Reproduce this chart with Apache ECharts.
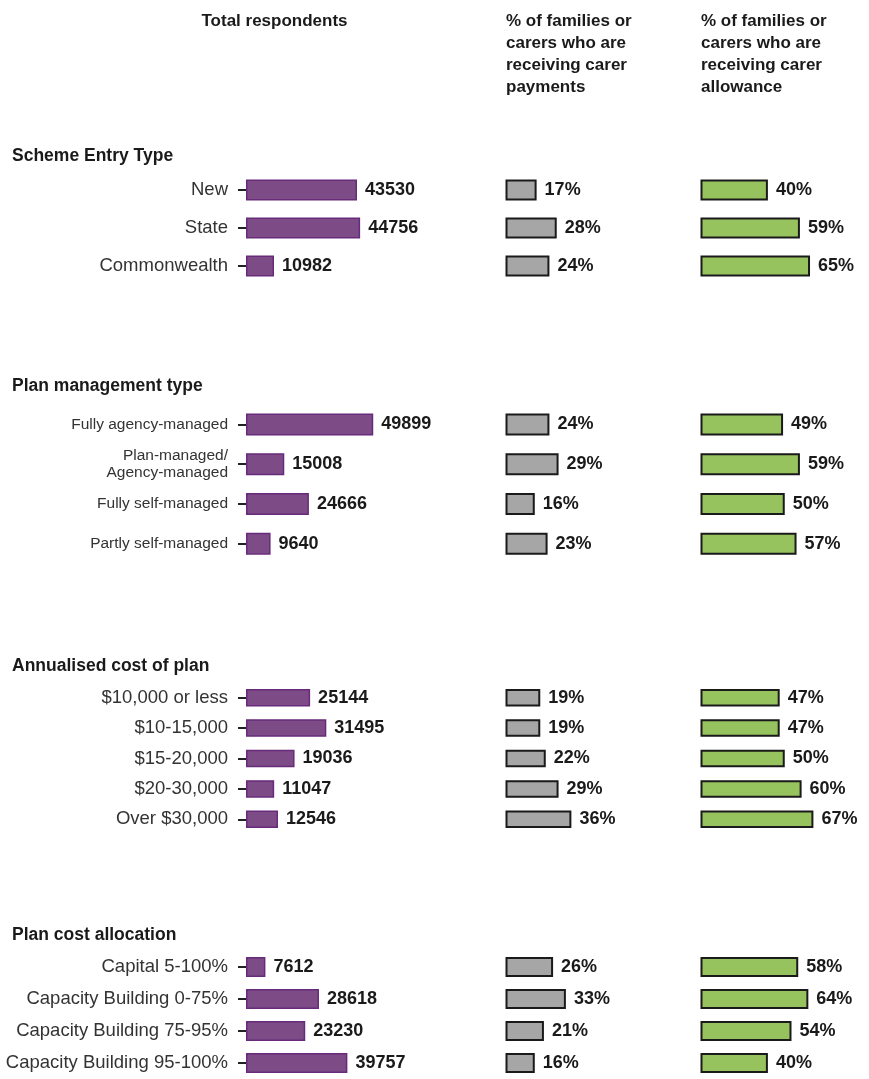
<!DOCTYPE html>
<html>
<head>
<meta charset="utf-8">
<title>Carer payments and allowance</title>
<script src="https://cdn.jsdelivr.net/npm/echarts@6/dist/echarts.min.js"></script>
<style>
  html, body { margin: 0; padding: 0; background: #fff; }
  #chart { width: 869px; height: 1079px; }
</style>
</head>
<body>
<div id="chart"></div>
<script>
// 数据
const sectionTitles = ["Scheme Entry Type", "Plan management type", "Annualised cost of plan", "Plan cost allocation"];

const entryCats = ["New", "State", "Commonwealth"];
const entryTotal = [43530, 44756, 10982];
const entryPayments = [17, 28, 24];
const entryAllowance = [40, 59, 65];

const mgmtCats = ["Fully agency-managed", "Plan-managed/\nAgency-managed", "Fully self-managed", "Partly self-managed"];
const mgmtTotal = [49899, 15008, 24666, 9640];
const mgmtPayments = [24, 29, 16, 23];
const mgmtAllowance = [49, 59, 50, 57];

const costCats = ["$10,000 or less", "$10-15,000", "$15-20,000", "$20-30,000", "Over $30,000"];
const costTotal = [25144, 31495, 19036, 11047, 12546];
const costPayments = [19, 19, 22, 29, 36];
const costAllowance = [47, 47, 50, 60, 67];

const allocCats = ["Capital 5-100%", "Capacity Building 0-75%", "Capacity Building 75-95%", "Capacity Building 95-100%"];
const allocTotal = [7612, 28618, 23230, 39757];
const allocPayments = [26, 33, 21, 16];
const allocAllowance = [58, 64, 54, 40];

const columnTitles = ["Total respondents", "% of families or\ncarers who are\nreceiving carer\npayments", "% of families or\ncarers who are\nreceiving carer\nallowance"];

// 布局
const font = "'Liberation Sans', Arial, Helvetica, sans-serif";
const textColor = "#1a1a1a";
const labelColor = "#333";

const sections = [
  { cats: entryCats, cols: [entryTotal, entryPayments, entryAllowance], top: 171, height: 114, bar: 21, fs: 18.5, lh: 18.5, titleY: 156 },
  { cats: mgmtCats, cols: [mgmtTotal, mgmtPayments, mgmtAllowance], top: 404.5, height: 159, bar: 22, fs: 15.5, lh: 17, titleY: 386 },
  { cats: costCats, cols: [costTotal, costPayments, costAllowance], top: 682.5, height: 152, bar: 17.5, fs: 18.5, lh: 18.5, titleY: 666 },
  { cats: allocCats, cols: [allocTotal, allocPayments, allocAllowance], top: 951, height: 133.5, bar: 20, fs: 18.5, lh: 18.5, titleY: 935 }
];

// 第一列坐标轴从 -1176 开始，让柱子和刻度之间留 3px 空隙
const columns = [
  { left: 243, width: 258, min: -1176, max: 100000, color: "#7d4c87", border: "#682a7a", borderWidth: 1.5, fmt: "{c}" },
  { left: 505.5, width: 183, min: 0, max: 100, color: "#a6a6a6", border: "#1a1a1a", borderWidth: 2, fmt: "{c}%" },
  { left: 700.5, width: 183, min: 0, max: 100, color: "#97c35e", border: "#1a1a1a", borderWidth: 2, fmt: "{c}%" }
];

let grid = [], xAxis = [], yAxis = [], series = [];

sections.forEach(function (sec) {
  columns.forEach(function (col, c) {
    const idx = grid.length;
    grid.push({ left: col.left, top: sec.top, width: col.width, height: sec.height, containLabel: false });
    xAxis.push({ gridIndex: idx, type: "value", min: col.min, max: col.max, show: false });
    yAxis.push({
      gridIndex: idx,
      type: "category",
      inverse: true,
      data: sec.cats,
      show: c === 0,
      axisLine: { show: false },
      axisTick: { show: true, alignWithLabel: true, length: 8, lineStyle: { color: "#222", width: 2 } },
      axisLabel: { margin: 15, color: labelColor, fontFamily: font, fontSize: sec.fs, lineHeight: sec.lh },
      splitLine: { show: false }
    });
    series.push({
      type: "bar",
      xAxisIndex: idx,
      yAxisIndex: idx,
      data: sec.cols[c],
      barWidth: sec.bar,
      silent: true,
      itemStyle: { color: col.color, borderColor: col.border, borderWidth: col.borderWidth },
      label: {
        show: true,
        position: "right",
        distance: 8,
        formatter: col.fmt,
        color: textColor,
        fontFamily: font,
        fontWeight: "bold",
        fontSize: 18
      }
    });
  });
});

// 标题文字
let graphic = [
  { type: "text", x: 274.5, y: 21, style: { text: columnTitles[0], fill: textColor, font: "bold 17px " + font, textAlign: "center", textVerticalAlign: "middle" } },
  { type: "text", x: 506, y: 10, style: { text: columnTitles[1], fill: textColor, font: "bold 17px " + font, lineHeight: 22, textVerticalAlign: "top" } },
  { type: "text", x: 701, y: 10, style: { text: columnTitles[2], fill: textColor, font: "bold 17px " + font, lineHeight: 22, textVerticalAlign: "top" } }
];
sections.forEach(function (sec, i) {
  graphic.push({ type: "text", x: 12, y: sec.titleY, style: { text: sectionTitles[i], fill: textColor, font: "bold 17.5px " + font, textVerticalAlign: "middle" } });
});

let myChart = echarts.init(document.getElementById("chart"));
var option = {
  animation: false,
  backgroundColor: "#fff",
  grid: grid,
  xAxis: xAxis,
  yAxis: yAxis,
  series: series,
  graphic: graphic
};
myChart.setOption(option);
</script>
</body>
</html>
